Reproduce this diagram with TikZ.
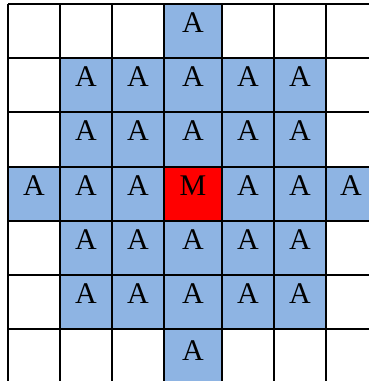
\documentclass[tikz,border=0pt]{standalone}
\usepackage{fontspec}
\setmainfont{Liberation Serif}
\usepackage{tikz}
\usetikzlibrary{calc}
\definecolor{cellblue}{HTML}{8EB4E3}
\definecolor{cellred}{HTML}{FF0000}
\tikzset{
    gridline/.style={line width=1.8pt, draw=black},
    bluecell/.style={fill=cellblue},
    redcell/.style={fill=cellred},
    letter/.style={font=\fontsize{30}{30}\selectfont, text=black, inner sep=0pt}
}

\begin{document}
\begin{tikzpicture}[x=1pt,y=-1pt]
  \useasboundingbox (0,0) rectangle (369,381);
  \clip (0,0) rectangle (369,381);

  % Blue neighbourhood: 5x5 block, middle row and middle column
  \fill[bluecell] (60,58) rectangle (326,329);
  \fill[bluecell] (164,4) rectangle (222,390);
  \fill[bluecell] (8,167) rectangle (390,221);
  % Centre cell
  \fill[redcell] (164,167) rectangle (222,221);

  % Grid lines
  \foreach \x in {8,60,112,164,222,274,326}
    \draw[gridline] (\x,4) -- (\x,390);
  \foreach \y in {4,58,112,167,221,275,329}
    \draw[gridline] (8,\y) -- (390,\y);

  % Letters in middle column (rows 0 and 6)
  \node[letter] (a-0-3) at (193,23) {A};
  \node[letter] (a-6-3) at (193,351) {A};

  % Letters in rows 1,2,4,5
  \foreach \r/\y in {1/77,2/131,4/240,5/294}
    \foreach \c/\x in {1/86,2/138,3/193,4/248,5/300}
      \node[letter] (a-\r-\c) at (\x,\y) {A};

  % Middle row
  \foreach \c/\x in {0/34,1/86,2/138,4/248,5/300,6/351}
    \node[letter] (a-3-\c) at (\x,186) {A};
  \node[letter] (m) at (193,186) {M};

\end{tikzpicture}
\end{document}
